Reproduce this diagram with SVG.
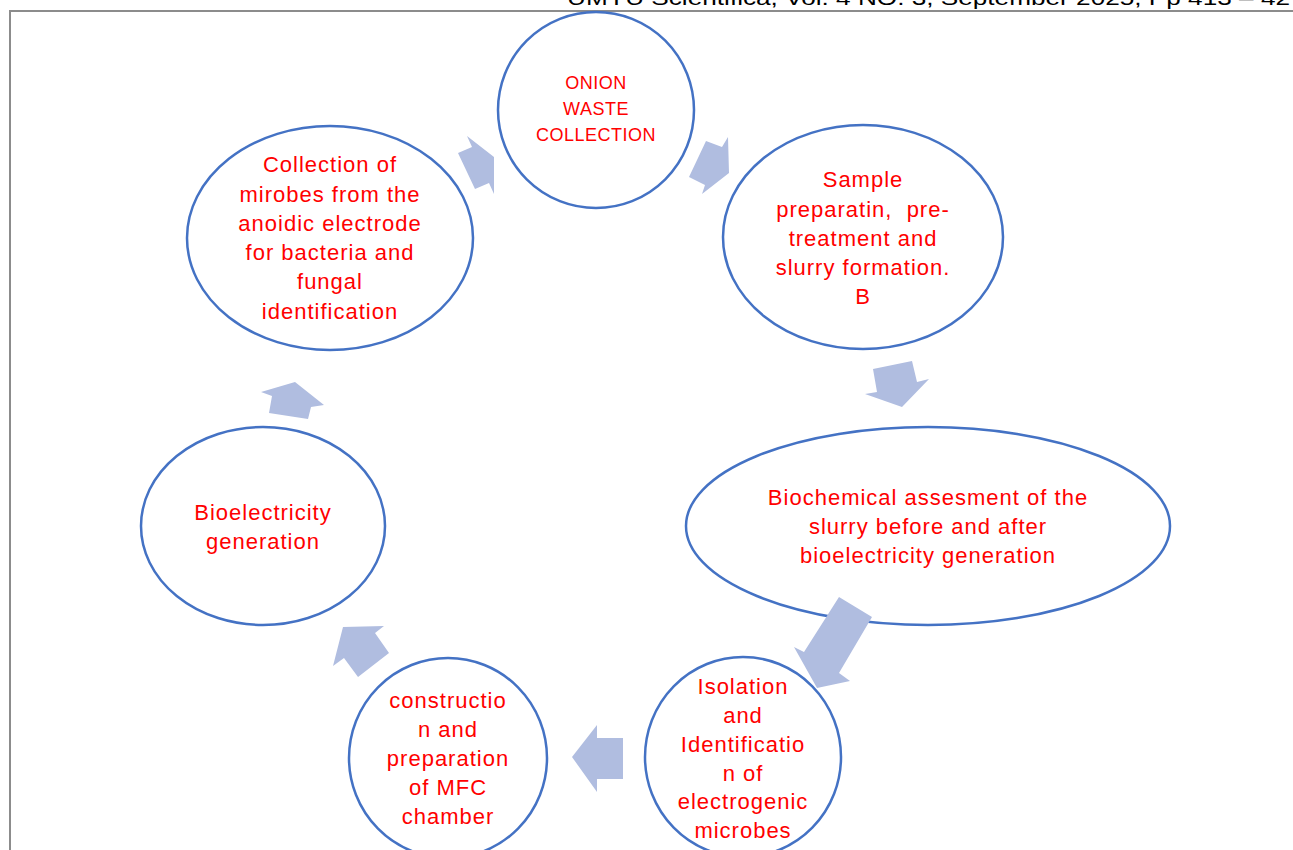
<svg xmlns="http://www.w3.org/2000/svg" width="1293" height="850" viewBox="0 0 1293 850">
<style>
.node{fill:#ffffff;stroke:#4472c4;stroke-width:2.5}
.lbl{font-family:"Liberation Sans",Arial,sans-serif;font-size:22px;fill:#ff0000;text-anchor:middle;letter-spacing:1px}
.sm{font-size:18px;letter-spacing:0.5px}
.arr{fill:#b0bde0}
.frame{stroke:#8c8c8c;stroke-width:2;fill:none}
.hdr{font-family:"Liberation Sans",Arial,sans-serif;font-size:21px;fill:#000000}
</style>
<rect width="1293" height="850" fill="#ffffff"/>
<text class="hdr" x="567" y="5" textLength="723" lengthAdjust="spacingAndGlyphs">UMYU Scientifica, Vol. 4 NO. 3, September 2025, Pp 413 – 42</text>
<path class="frame" d="M10,850 V11 H1293"/>
<g id="onion">
<ellipse class="node" cx="596" cy="110" rx="98" ry="98"/>
<text class="lbl sm"><tspan x="596" y="89">ONION</tspan><tspan x="596" y="115">WASTE</tspan><tspan x="596" y="141">COLLECTION</tspan></text>
</g>
<g id="sample">
<ellipse class="node" cx="863" cy="237" rx="140" ry="112"/>
<text class="lbl"><tspan x="863" y="187">Sample</tspan><tspan x="863" y="217" xml:space="preserve">preparatin,  pre-</tspan><tspan x="863" y="246">treatment and</tspan><tspan x="863" y="275">slurry formation.</tspan><tspan x="863" y="304">B</tspan></text>
</g>
<g id="biochemical">
<ellipse class="node" cx="928" cy="526" rx="242" ry="99"/>
<text class="lbl"><tspan x="928" y="505">Biochemical assesment of the</tspan><tspan x="928" y="534">slurry before and after</tspan><tspan x="928" y="563">bioelectricity generation</tspan></text>
</g>
<g id="isolation">
<ellipse class="node" cx="743" cy="757" rx="98" ry="100"/>
<text class="lbl"><tspan x="743" y="694">Isolation</tspan><tspan x="743" y="723">and</tspan><tspan x="743" y="752">Identificatio</tspan><tspan x="743" y="781">n of</tspan><tspan x="743" y="809">electrogenic</tspan><tspan x="743" y="838">microbes</tspan></text>
</g>
<g id="construction">
<ellipse class="node" cx="448" cy="758" rx="99" ry="100"/>
<text class="lbl"><tspan x="448" y="708">constructio</tspan><tspan x="448" y="737">n and</tspan><tspan x="448" y="766">preparation</tspan><tspan x="448" y="795">of MFC</tspan><tspan x="448" y="824">chamber</tspan></text>
</g>
<g id="bioelectricity">
<ellipse class="node" cx="263" cy="526" rx="122" ry="99"/>
<text class="lbl"><tspan x="263" y="520">Bioelectricity</tspan><tspan x="263" y="549">generation</tspan></text>
</g>
<g id="collection">
<ellipse class="node" cx="330" cy="238" rx="143" ry="112"/>
<text class="lbl"><tspan x="330" y="172">Collection of</tspan><tspan x="330" y="202">mirobes from the</tspan><tspan x="330" y="231">anoidic electrode</tspan><tspan x="330" y="260">for bacteria and</tspan><tspan x="330" y="289">fungal</tspan><tspan x="330" y="319">identification</tspan></text>
</g>
<g id="connectors">
<polygon class="arr" points="494,157 467,136 472,147 458,153 475,189 489,183 494,194"/>
<polygon class="arr" points="729,173 728,137 722,147 706,141 689,177 705,185 702,194"/>
<polygon class="arr" points="902,407 929,379 917,382 912,361 873,369 877,392 865,394"/>
<polygon class="arr" points="817,688 850,681 839,673 872,617 839,597 804,652 794,647"/>
<polygon class="arr" points="572,757 597,725 597,738 623,738 623,779 597,779 597,792"/>
<polygon class="arr" points="343,627 384,626 375,633 389,653 358,677 344,658 333,666"/>
<polygon class="arr" points="295,382 324,405 311,407 308,419 269,413 272,396 261,392"/>
</g>
</svg>
